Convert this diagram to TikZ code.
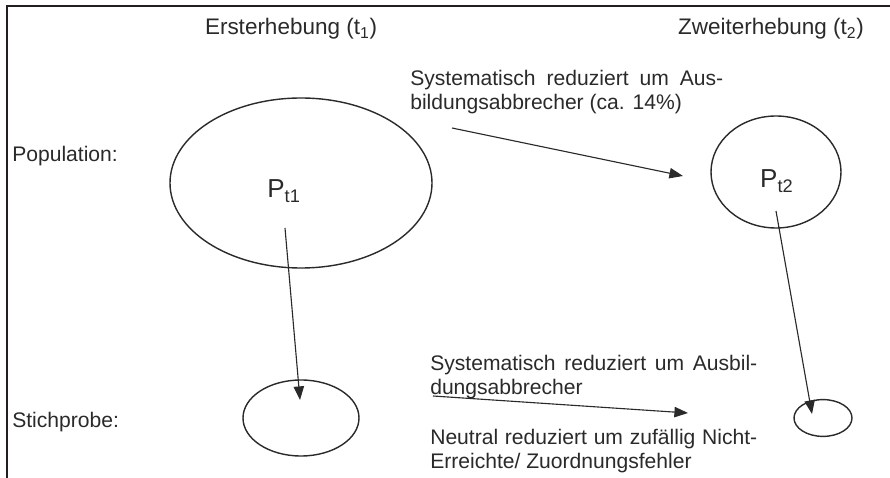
\documentclass[tikz,border=0pt]{standalone}
\usepackage{fontspec}
\setmainfont{Liberation Sans}
\usetikzlibrary{arrows.meta,positioning,shapes.geometric}
\definecolor{SurveyInk}{HTML}{2A2A2A}
\definecolor{SurveyFrame}{HTML}{231F20}
\tikzset{
  wave/.style={font=\fontsize{16}{18}\selectfont, text=SurveyInk, anchor=base},
  rowname/.style={font=\fontsize{15}{17}\selectfont, text=SurveyInk, anchor=base west, inner sep=0pt},
  pop/.style={ellipse, draw=SurveyInk, line width=1pt, inner sep=0pt},
  popname/.style={font=\fontsize{18.5}{20}\selectfont, text=SurveyInk, anchor=base},
  note/.style={font=\fontsize{15}{16.4}\selectfont, text=SurveyInk, align=justify, anchor=base west, inner sep=0pt},
  drift/.style={-{Triangle[length=3.4mm,width=2.6mm]}, line width=.8pt, draw=SurveyInk},
}
\begin{document}
\begin{tikzpicture}
  \useasboundingbox (0,0) rectangle (22.25,11.95);
  \draw[SurveyFrame, line width=1.6pt] (0.175,0) -- (0.175,11.8) -- (22.25,11.8);

  \node[wave] (w1) at (7.275,11.075) {Ersterhebung (t\textsubscript{1})};
  \node[wave] (w2) at (19.275,11.075) {Zweiterhebung (t\textsubscript{2})};
  \node[rowname] (rpop) at (0.3,7.9) {Population:};
  \node[rowname] (rsmp) at (0.3,1.25) {Stichprobe:};

  \node[pop, minimum width=6.55cm, minimum height=4.25cm] (p1) at (7.525,7.375) {};
  \node[pop, minimum width=3.25cm, minimum height=2.8cm] (p2) at (19.4,7.65) {};
  \node[pop, minimum width=2.9cm, minimum height=1.9cm] (s1) at (7.525,1.5) {};
  \node[pop, minimum width=1.45cm, minimum height=.92cm] (s2) at (20.575,1.5) {};
  \node[popname] (lp1) at (7.1,7.0) {P\textsubscript{t1}};
  \node[popname] (lp2) at (19.42,7.25) {P\textsubscript{t2}};

  \node[note, text width=7.825cm] (n1) at (10.25,9.8)
    {Systematisch reduziert um Aus-\linebreak bildungsabbrecher (ca. 14\%)};
  \node[note, text width=8.175cm] (n2) at (10.75,2.675)
    {Systematisch reduziert um Ausbil-\linebreak dungsabbrecher};
  \node[note, text width=8.175cm] (n3) at (10.75,0.825)
    {Neutral reduziert um zufällig Nicht-\linebreak Erreichte/ Zuordnungsfehler};

  % free ends of the arrows
  \coordinate (d1) at (7.125,6.25);
  \coordinate (e1) at (7.5,1.95);
  \coordinate (d2) at (19.4,6.675);
  \coordinate (e2) at (20.3,1.6);
  \coordinate (h1) at (11.3,8.75);
  \coordinate (k1) at (17.075,7.55);
  \coordinate (h2) at (10.825,2.05);
  \coordinate (k2) at (17.2,1.625);

  \draw[drift] (d1) -- (e1);
  \draw[drift] (d2) -- (e2);
  \draw[drift] (h1) -- (k1);
  \draw[drift] (h2) -- (k2);
\end{tikzpicture}
\end{document}
